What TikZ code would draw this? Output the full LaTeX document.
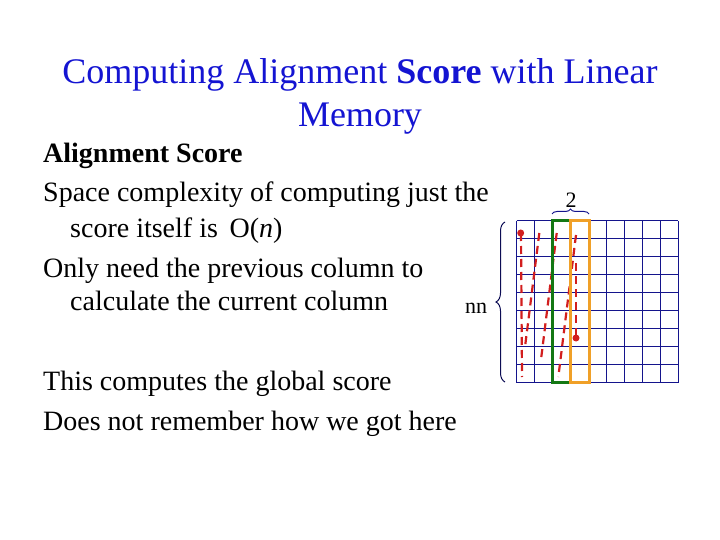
\documentclass[tikz,border=0pt]{standalone}
\usepackage{fontspec}
\setmainfont{Liberation Serif}
\usetikzlibrary{decorations.pathreplacing}
\definecolor{gridblue}{RGB}{20,20,140}
\definecolor{dred}{RGB}{210,30,30}
\definecolor{dgreen}{RGB}{20,120,20}
\definecolor{orng}{RGB}{240,160,40}
\definecolor{ttl}{RGB}{20,20,210}
\begin{document}
\begin{tikzpicture}[x=1pt,y=-1pt,
  title/.style={font=\fontsize{36}{43}\selectfont, text=ttl, align=center},
  body/.style={font=\fontsize{28}{32}\selectfont, anchor=base west, inner sep=0},
  trace/.style={dred, line width=2.2pt, dash pattern=on 8pt off 5pt},
  dotst/.style={circle, fill=dred, inner sep=0, minimum size=7pt},
  gridline/.style={gridblue, line width=1pt}]
\useasboundingbox (0,0) rectangle (720,540);
\node[title] (t) at (360,96) {Computing Alignment \textbf{Score} with Linear\\Memory};
\node[body] (b1) at (43,163) {\textbf{Alignment Score}};
\node[body] (b2) at (43,202) {Space complexity of computing just the};
\node[body] (b3) at (70,237) {score itself is \,O(\textit{n})};
\node[body] (b4) at (43,277) {Only need the previous column to};
\node[body] (b5) at (70,310) {calculate the current column};
\node[body] (b6) at (43,390) {This computes the global score};
\node[body] (b7) at (43,430) {Does not remember how we got here};
\foreach \i in {0,...,9} {
  \draw[gridline] ({516.7+\i*17.93},221) -- ({516.7+\i*17.93},382.7);
  \draw[gridline] (516.7,{221+\i*17.97}) -- (678,{221+\i*17.97});
}
\draw[trace] (521,233) -- (522,377);
\draw[trace] (539.3,233) -- (525,347);
\draw[trace] (556.7,233) -- (540.7,362);
\draw[trace] (576,235) -- (558.3,377);
\draw[trace] (576,263) -- (576,338);
\node[dotst] (d1) at (520.7,233) {};
\node[dotst] (d2) at (576,338) {};
\draw[dgreen, line width=3pt] (552,221) rectangle (570,382.7);
\draw[orng, line width=3pt] (570,221) rectangle (589,382.7);
\draw[gridblue, line width=1pt, decorate, decoration={brace, amplitude=5pt}] (552,214) -- (589,214);
\node[font=\fontsize{22}{26}\selectfont, inner sep=0] (two) at (571,200) {2};
\draw[gridblue!60!black, line width=1pt, decorate, decoration={brace, amplitude=9pt}] (505,382) -- (505,222);
\node[font=\fontsize{22}{26}\selectfont, inner sep=0] (nn) at (476,308) {nn};
\end{tikzpicture}
\end{document}
